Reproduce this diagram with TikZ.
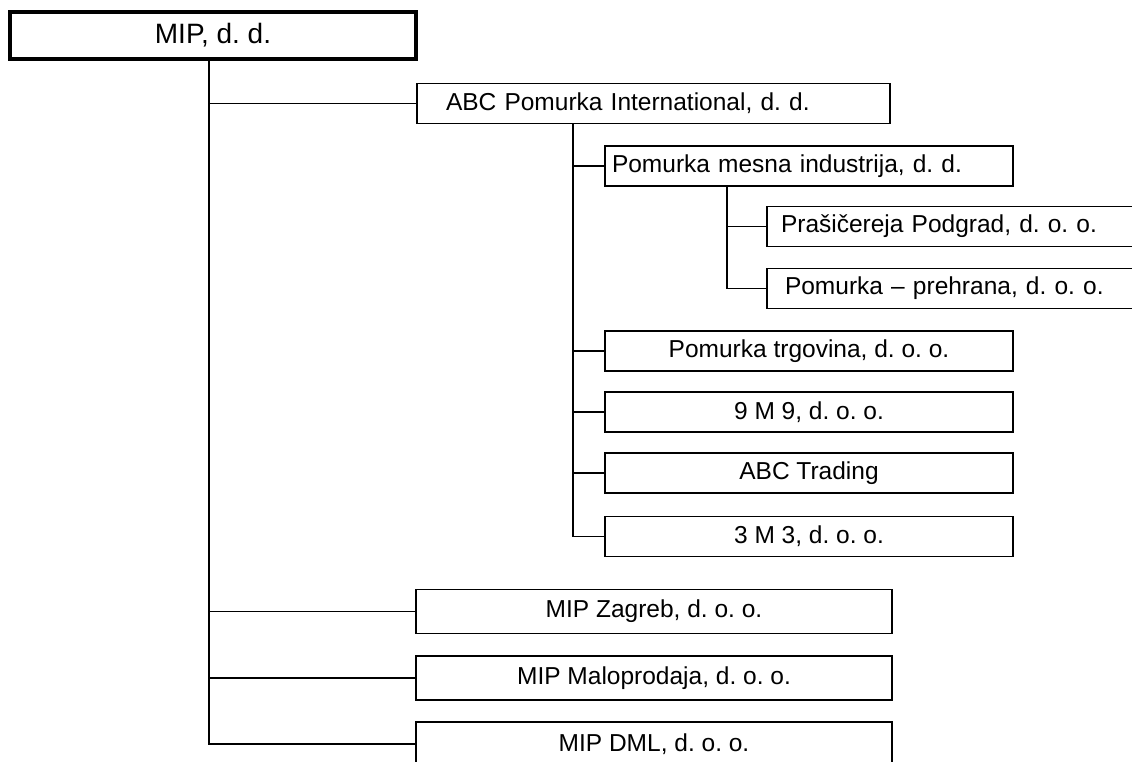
\documentclass[tikz,border=0pt]{standalone}
\usepackage{fontspec}
\setmainfont{Liberation Sans}
\usepackage{tikz}

\begin{document}
\begin{tikzpicture}[x=1pt,y=-1pt]
		\tikzset{mybox/.style={draw=black,line width=1.8pt,minimum height=40pt,inner sep=0pt,font=\fontsize{24.5}{28}\selectfont}} %boxes
		\tikzset{mytop/.style={mybox,line width=4pt,minimum width=406pt,minimum height=47pt,font=\fontsize{28}{32}\selectfont}}
		\tikzset{mylink/.style={black,line width=1.9pt}}
		\clip (0,0) rectangle (1132,762);
		\useasboundingbox (0,0) rectangle (1132,762);
		\node[mytop] (mip) at (213,35.5) {MIP, d.~d.}; %owner
		\node[mybox,text width=415pt,inner xsep=29pt,align=left] (abc) at (653.5,103.5) {ABC Pomurka International, d.~d.}; %level 1
		\node[mybox,minimum width=476pt,minimum height=44pt] (zagreb) at (654,611.5) {MIP Zagreb, d.~o.~o.};
		\node[mybox,minimum width=476pt,minimum height=44pt] (malo) at (654,678) {MIP Maloprodaja, d.~o.~o.};
		\node[mybox,minimum width=476pt,minimum height=44pt] (dml) at (654,744) {MIP DML, d.~o.~o.};
		\node[mybox,text width=394pt,inner xsep=7pt,align=left] (mesna) at (809,166) {Pomurka mesna industrija, d.~d.}; %level 2
		\node[mybox,minimum width=408pt] (trgovina) at (809,351) {Pomurka trgovina, d.~o.~o.};
		\node[mybox,minimum width=408pt] (m9) at (809,412) {9 M 9, d.~o.~o.};
		\node[mybox,minimum width=408pt] (trading) at (809,473) {ABC Trading};
		\node[mybox,minimum width=408pt] (m3) at (809,536.5) {3 M 3, d.~o.~o.};
		\node[mybox,text width=355pt,inner xsep=14pt,align=left] (prasic) at (958.5,226.5) {Prašičereja Podgrad, d.~o.~o.}; %level 3
		\node[mybox,text width=347pt,inner xsep=18pt,align=left] (prehrana) at (958.5,288.5) {Pomurka -- prehrana, d.~o.~o.};
		\coordinate (t0) at (209,0); %trunks
		\coordinate (t1) at (573,0);
		\coordinate (t2) at (727,0);
		\draw[mylink] (mip.south -| t0) |- (dml.west);
		\foreach \b in {abc,zagreb,malo}
			\draw[mylink] (\b.west -| t0) -- (\b.west);
		\draw[mylink] (abc.south -| t1) |- (m3.west);
		\foreach \b in {mesna,trgovina,m9,trading}
			\draw[mylink] (\b.west -| t1) -- (\b.west);
		\draw[mylink] (mesna.south -| t2) |- (prehrana.west);
		\draw[mylink] (prasic.west -| t2) -- (prasic.west);
	\end{tikzpicture}
\end{document}
